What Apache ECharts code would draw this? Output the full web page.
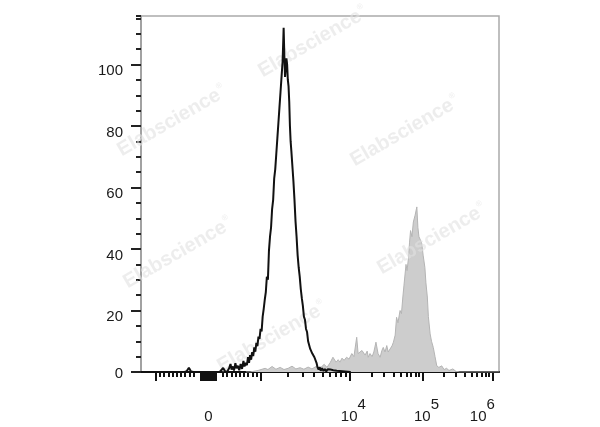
<!DOCTYPE html>
<html><head><meta charset="utf-8">
<script src="https://cdn.jsdelivr.net/npm/echarts@6/dist/echarts.min.js"></script>
<style>html,body{margin:0;padding:0;background:#fff}#c{width:600px;height:427px}</style>
</head><body><div id="c"></div>
<script>
// Histogram data: [display channel (0..1024), count]
const blackCounts = [[0,0],[125,0],[131,0.3],[137,1.4],[143,0.2],[150,0],[225,0],[230,0.4],[235,1.3],[240,0.3],[246,0],[252,1.2],[256,2.6],[259,0.8],[263,1.8],[266,0.5],[270,2.9],[273,1.2],[277,2.0],[281,0.6],[285,2.6],[289,1.0],[293,3.6],[296,1.8],[300,3.0],[303,2.2],[306,4.8],[309,3.0],[312,5.5],[315,4.0],[318,6.5],[321,5.2],[324,8.0],[327,6.6],[330,9.5],[333,8.4],[336,11.5],[339,10.8],[342,14.0],[345,13.2],[348,18.0],[351,20.5],[354,23.5],[357,26.0],[360,31.0],[363,30.0],[366,39.5],[369,44.0],[372,47.0],[375,53.0],[378,56.0],[381,63.0],[384,66.0],[387,71.0],[390,76.0],[393,81.0],[396,86.0],[399,91.0],[402,96.0],[405,101.0],[407,108.0],[408,112.0],[410,103.0],[412,96.0],[414,99.0],[416,102.0],[418,100.0],[420,95.0],[422,93.0],[424,88.0],[426,80.0],[428,75.0],[430,72.0],[433,67.0],[436,62.0],[439,56.0],[442,49.0],[445,44.0],[448,38.0],[451,34.0],[454,31.0],[457,27.0],[460,24.0],[463,21.5],[466,18.0],[469,17.0],[472,14.0],[475,13.0],[478,10.0],[481,9.5],[484,7.5],[487,7.8],[490,6.0],[493,6.5],[496,4.8],[499,5.0],[502,3.0],[505,1.5],[508,0.8],[511,1.6],[514,0.4],[518,1.2],[522,0.3],[526,1.0],[530,0.2],[534,0.9],[538,0.3],[542,0.8],[546,0.2],[550,0.6],[555,0],[560,0.4],[565,0],[600,0]];
const grayCounts = [[300,0],[312,0],[335,0.5],[355,1.2],[363,0.8],[375,1.8],[386,0.9],[398,1.5],[409,0.8],[421,1.2],[432,1.9],[443,1.0],[455,1.4],[466,0.9],[478,1.6],[489,1.0],[501,1.8],[512,1.2],[524,2.5],[532,1.5],[541,3.0],[549,4.8],[558,3.2],[564,4.0],[569,3.2],[575,4.5],[581,3.8],[588,4.8],[595,4.2],[603,6.0],[609,5.0],[617,11.3],[621,6.0],[626,5.4],[632,7.0],[636,6.5],[641,5.5],[647,6.8],[650,4.8],[655,6.0],[661,5.0],[666,6.5],[672,9.7],[678,6.0],[684,4.8],[689,7.0],[693,8.0],[698,6.5],[703,8.6],[707,6.5],[712,7.0],[718,8.5],[722,9.7],[727,12],[731,17.8],[735,16],[741,20],[745,19],[749,24.4],[752,28],[758,35],[761,33],[765,37],[768,42],[771,46],[775,44],[779,48.8],[784,51],[789,53.7],[792,47],[795,44],[799,43],[803,41.8],[807,38],[812,34],[815,29],[819,24.4],[822,18],[827,12.4],[831,10],[836,8],[841,5],[846,2],[852,1.5],[860,2],[867,0.8],[874,1.2],[881,0.5],[892,1.0],[901,0.2],[912,0],[1024,0]];

// Axis tick values (fluorescence intensity)
const xLabelValues = [0, 1e4, 1e5, 1e6];
const xLabelExps = [null, 4, 5, 6];
const xMajorTickValues = [-1000, -50, -40, -30, -20, -10, 0, 10, 20, 30, 40, 50, 1000, 1e4, 1e5, 1e6];
const xMinorTickValues = [-900,-800,-700,-600,-500,-400,-300,-200,-100,100,200,300,400,500,600,700,800,900,
  2e3,3e3,4e3,5e3,6e3,7e3,8e3,9e3,2e4,3e4,4e4,5e4,6e4,7e4,8e4,9e4,2e5,3e5,4e5,5e5,6e5,7e5,8e5,9e5];
const yMajorInterval = 20, yMinorInterval = 5, yMax = 115.8;
const watermarkCenters = [[313,42],[172,121],[405,131],[178,253],[432,239],[272,337]];

// Biexponential-like display transform: intensity -> display channel (0..1024)
const CH = 1024 / 358;
function toChannel(v) {
  const a = Math.abs(v), s = v < 0 ? -1 : 1;
  let p;
  if (a <= 100) p = 67.3 + v * 0.147;
  else if (a <= 1000) p = 67.3 + s * (14.7 + (a - 100) / 900 * 37.8);
  else if (v <= 1e4) p = 119.8 + Math.log10(v / 1e3) * 88.5;
  else if (v <= 1e5) p = 208.3 + Math.log10(v / 1e4) * 73.2;
  else p = 281.5 + Math.log10(v / 1e5) * 69.8;
  return p * CH;
}

const FONT = 'Arial, "Liberation Sans", sans-serif';
const labelChannels = xLabelValues.map(toChannel);
const chart = echarts.init(document.getElementById('c'), null, {renderer: 'canvas'});
chart.setOption({
  animation: false,
  backgroundColor: '#fff',
  grid: {left: 141, right: 101, top: 16, bottom: 55, show: true, borderColor: '#aaa', borderWidth: 1.5, backgroundColor: 'transparent'},
  xAxis: [{
    type: 'value', min: 0, max: 1024, position: 'bottom',
    axisLine: {show: true, lineStyle: {color: '#111', width: 2}},
    axisTick: {show: true, customValues: xMajorTickValues.map(toChannel), length: 9, lineStyle: {color: '#111', width: 2}},
    axisLabel: {
      show: true, customValues: labelChannels, margin: 25, color: '#1a1a1a',
      formatter: function (val) {
        let i = 0, best = 1e9;
        labelChannels.forEach((c, k) => { if (Math.abs(c - val) < best) { best = Math.abs(c - val); i = k; } });
        const e = xLabelExps[i];
        if (e === null) return '{b|' + xLabelValues[i] + '}';
        return '{bp|10}{' + (e === 6 ? 's6' : 's') + '|' + e + '}';
      },
      rich: {
        b: {fontSize: 15, fontFamily: FONT, color: '#1a1a1a', padding: [12, 0, 0, 0]},
        bp: {fontSize: 15, fontFamily: FONT, color: '#1a1a1a', padding: [12, 0, 0, 8]},
        s: {fontSize: 15, fontFamily: FONT, color: '#1a1a1a', padding: [0, 0, 12, 0]},
        s6: {fontSize: 15, fontFamily: FONT, color: '#1a1a1a', padding: [0, 28, 12, 0]}
      }
    },
    splitLine: {show: false}
  }, {
    type: 'value', min: 0, max: 1024, position: 'bottom', offset: 0,
    axisLine: {show: false},
    axisTick: {show: true, customValues: xMinorTickValues.map(toChannel), length: 5, lineStyle: {color: '#111', width: 2}},
    axisLabel: {show: false},
    splitLine: {show: false}
  }],
  yAxis: [{
    type: 'value', min: 0, max: yMax, interval: yMajorInterval, position: 'left',
    axisLine: {show: true, lineStyle: {color: '#999', width: 1.5}},
    axisTick: {show: true, length: 10, lineStyle: {color: '#222', width: 2}},
    axisLabel: {
      margin: 18, color: '#1a1a1a', fontSize: 15, fontFamily: FONT, showMaxLabel: false,
      formatter: v => (v % yMajorInterval !== 0) ? '' : (v === 0 ? '{z|0}' : '{n|' + v + '}'),
      rich: {
        n: {fontSize: 15, fontFamily: FONT, color: '#1a1a1a', padding: [13, 0, 0, 0]},
        z: {fontSize: 15, fontFamily: FONT, color: '#1a1a1a', padding: [3, 0, 0, 0]}
      }
    },
    splitLine: {show: false}
  }, {
    type: 'value', min: 0, max: yMax, interval: yMinorInterval, position: 'left', offset: 0,
    axisLine: {show: false},
    axisTick: {show: true, length: 5, lineStyle: {color: '#222', width: 2}},
    axisLabel: {show: false},
    splitLine: {show: false}
  }],
  graphic: watermarkCenters.map(([x, y]) => ({
    type: 'text', x: x, y: y, rotation: Math.PI / 6, z: 5, silent: true,
    style: {
      text: 'Elabscience{r|®}', fontSize: 20, fontWeight: 'bold', fontFamily: FONT,
      fill: 'rgba(225,225,225,0.6)', align: 'center', verticalAlign: 'middle',
      rich: {r: {fontSize: 8, fontFamily: FONT, fill: 'rgba(225,225,225,0.6)', padding: [0, 0, 14, 1]}}
    }
  })),
  series: [{
    type: 'line', xAxisIndex: 0, yAxisIndex: 0, data: grayCounts, symbol: 'none', z: 1,
    lineStyle: {color: '#b4b4b4', width: 1},
    areaStyle: {color: '#cdcdcd', opacity: 1}
  }, {
    type: 'line', xAxisIndex: 0, yAxisIndex: 0, data: blackCounts, symbol: 'none', z: 10,
    lineStyle: {color: '#111', width: 2}
  }]
});
</script>
</body></html>
